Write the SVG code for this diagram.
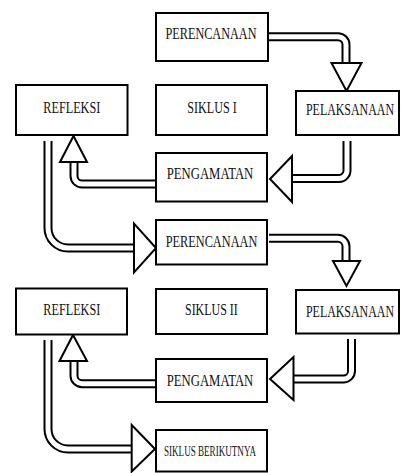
<svg xmlns="http://www.w3.org/2000/svg" width="401" height="473" viewBox="0 0 401 473">
<style>
.box{fill:#fff;stroke:#000;stroke-width:2}
.t{font-family:"Liberation Serif","Times New Roman",serif;font-size:12.2px;fill:#111}
.s{font-size:10.5px}
.so{fill:none;stroke:#000;stroke-width:9}
.si{fill:none;stroke:#fff;stroke-width:5}
.hd{fill:#fff;stroke:#000;stroke-width:2;stroke-linejoin:miter}
</style>
<rect width="401" height="473" fill="#fff"/>
<g id="connectors">
  <g id="c1"><path class="so" d="M269,36.7 H338 A8,8 0 0 1 346,44.7 V64"/><path class="si" d="M268,36.7 H338 A8,8 0 0 1 346,44.7 V64"/><polygon class="hd" points="331.5,63 361.5,63 346.5,91"/></g>
  <g id="c2"><path class="so" d="M347,141 V170 A8,8 0 0 1 339,178.5 H290"/><path class="si" d="M347,140 V170 A8,8 0 0 1 339,178.5 H290"/><polygon class="hd" points="292,156 292,202 270,179"/></g>
  <g id="c3"><path class="so" d="M156,184 H82 A8,8 0 0 1 74,176 V160"/><path class="si" d="M157,184 H82 A8,8 0 0 1 74,176 V160"/><polygon class="hd" points="60,162 87,162 73.5,136"/></g>
  <g id="c4"><path class="so" d="M48,141 V228 A20,20 0 0 0 68,248 H136"/><path class="si" d="M48,140 V228 A20,20 0 0 0 68,248 H136"/><polygon class="hd" points="134,223.5 134,272.5 156,248"/></g>
  <g id="c5"><path class="so" d="M269,238.3 H338 A8,8 0 0 1 346,246.3 V262"/><path class="si" d="M268,238.3 H338 A8,8 0 0 1 346,246.3 V262"/><polygon class="hd" points="333,261 360,261 346.5,286"/></g>
  <g id="c6"><path class="so" d="M351.5,339 V371 A8,8 0 0 1 343.5,379 H292"/><path class="si" d="M351.5,338 V371 A8,8 0 0 1 343.5,379 H292"/><polygon class="hd" points="293.5,357 293.5,400 270,379"/></g>
  <g id="c7"><path class="so" d="M156,383.7 H82 A8,8 0 0 1 74,375.7 V359"/><path class="si" d="M157,383.7 H82 A8,8 0 0 1 74,375.7 V359"/><polygon class="hd" points="59.5,361 87,361 73,335"/></g>
  <g id="c8"><path class="so" d="M48,340 V429 A20,20 0 0 0 68,449 H133"/><path class="si" d="M48,339 V429 A20,20 0 0 0 68,449 H133"/><polygon class="hd" points="131.7,425 131.7,471.5 155,449"/></g>
</g>
<g id="perencanaan1"><rect class="box" x="156" y="13" width="112" height="48"/><text class="t" transform="translate(165.5,39.3) scale(1,1.35)" textLength="91" lengthAdjust="spacingAndGlyphs">PERENCANAAN</text></g>
<g id="refleksi1"><rect class="box" x="16" y="85" width="111.5" height="50"/><text class="t" transform="translate(43.3,113.3) scale(1,1.35)" textLength="57" lengthAdjust="spacingAndGlyphs">REFLEKSI</text></g>
<g id="siklus1"><rect class="box" x="156" y="85" width="111" height="50"/><text class="t" transform="translate(187.3,113.3) scale(1,1.35)" textLength="49.4" lengthAdjust="spacingAndGlyphs">SIKLUS I</text></g>
<g id="pelaksanaan1"><rect class="box" x="296" y="91" width="103" height="44"/><text class="t" transform="translate(306,115) scale(1,1.35)" textLength="88" lengthAdjust="spacingAndGlyphs">PELAKSANAAN</text></g>
<g id="pengamatan1"><rect class="box" x="156" y="153" width="111" height="48.5"/><text class="t" transform="translate(166.7,179) scale(1,1.35)" textLength="86.6" lengthAdjust="spacingAndGlyphs">PENGAMATAN</text></g>
<g id="perencanaan2"><rect class="box" x="156" y="220" width="111" height="44.5"/><text class="t" transform="translate(165.7,246.7) scale(1,1.35)" textLength="91.6" lengthAdjust="spacingAndGlyphs">PERENCANAAN</text></g>
<g id="refleksi2"><rect class="box" x="16" y="288.5" width="111" height="46"/><text class="t" transform="translate(43.3,315) scale(1,1.35)" textLength="57" lengthAdjust="spacingAndGlyphs">REFLEKSI</text></g>
<g id="siklus2"><rect class="box" x="156" y="289" width="111" height="45"/><text class="t" transform="translate(185,315) scale(1,1.35)" textLength="52.7" lengthAdjust="spacingAndGlyphs">SIKLUS II</text></g>
<g id="pelaksanaan2"><rect class="box" x="296" y="290" width="103" height="43.5"/><text class="t" transform="translate(306,316.7) scale(1,1.35)" textLength="88" lengthAdjust="spacingAndGlyphs">PELAKSANAAN</text></g>
<g id="pengamatan2"><rect class="box" x="156" y="359" width="111" height="43"/><text class="t" transform="translate(166.7,385.7) scale(1,1.35)" textLength="86.6" lengthAdjust="spacingAndGlyphs">PENGAMATAN</text></g>
<g id="siklus-berikutnya"><rect class="box" x="156" y="430" width="111" height="41.5"/><text class="t s" transform="translate(164,455.7) scale(1,1.3)" textLength="92" lengthAdjust="spacingAndGlyphs">SIKLUS BERIKUTNYA</text></g>
</svg>
